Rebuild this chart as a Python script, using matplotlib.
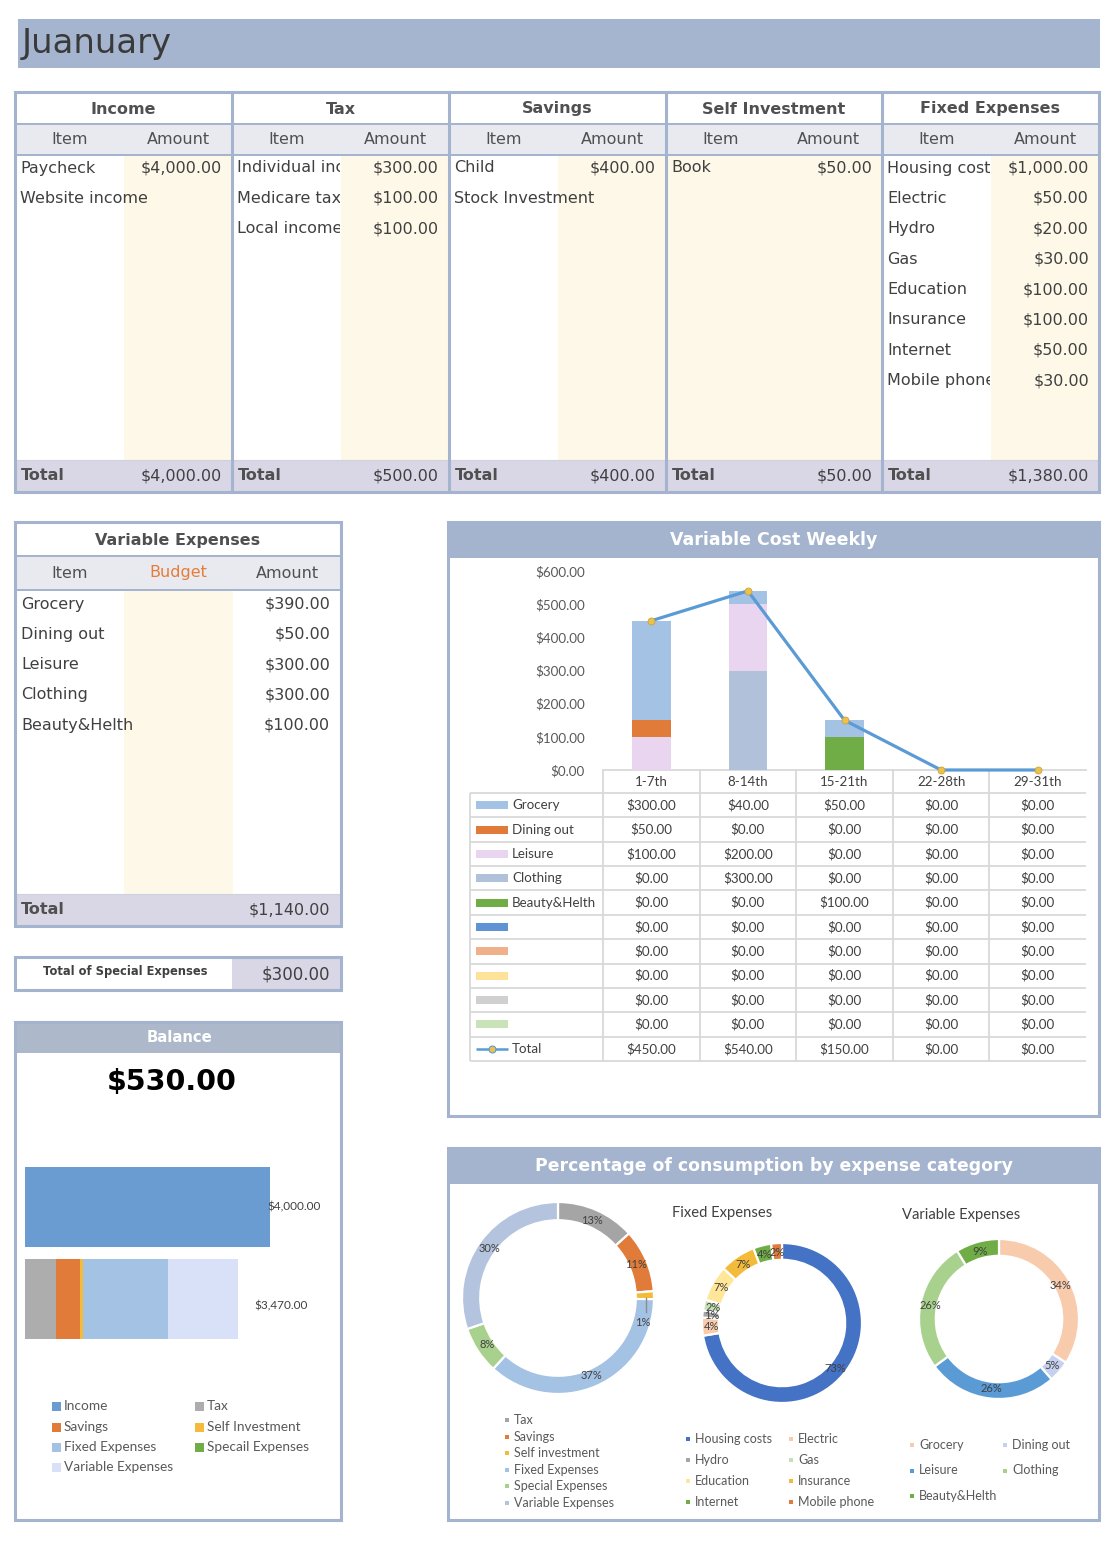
import matplotlib
matplotlib.use("Agg")
import matplotlib.pyplot as plt
import numpy as np
from matplotlib.patches import Rectangle
from matplotlib.transforms import Bbox, blended_transform_factory
from matplotlib.ticker import FuncFormatter

W, H = 1118, 1544

# ---- data read from the sheet ----
month_name = "Juanuary"

income_items = ["Paycheck", "Website income"]
income_amounts = [4000, None]
tax_items = ["Individual income tax", "Medicare tax", "Local income tax"]
tax_amounts = [300, 100, 100]
savings_items = ["Child", "Stock Investment"]
savings_amounts = [400, None]
self_items = ["Book"]
self_amounts = [50]
fixed_items = ["Housing costs", "Electric", "Hydro", "Gas", "Education",
               "Insurance", "Internet", "Mobile phone"]
fixed_amounts = [1000, 50, 20, 30, 100, 100, 50, 30]

var_items = ["Grocery", "Dining out", "Leisure", "Clothing", "Beauty&Helth"]
var_amounts = [390, 50, 300, 300, 100]
special_total = 300

weeks = ["1-7th", "8-14th", "15-21th", "22-28th", "29-31th"]
weekly_names = ["Grocery", "Dining out", "Leisure", "Clothing", "Beauty&Helth", "", "", "", "", ""]
weekly_values = [
    [300, 40, 50, 0, 0],
    [50, 0, 0, 0, 0],
    [100, 200, 0, 0, 0],
    [0, 300, 0, 0, 0],
    [0, 0, 100, 0, 0],
    [0, 0, 0, 0, 0],
    [0, 0, 0, 0, 0],
    [0, 0, 0, 0, 0],
    [0, 0, 0, 0, 0],
    [0, 0, 0, 0, 0],
]
weekly_colors = ["#A4C2E4", "#E07B39", "#EAD5F0", "#B1C1D9", "#70AD47",
                 "#5F93D3", "#F0B08A", "#FFE29A", "#D0D0D0", "#C9E2B8"]

balance_labels = ["Income", "Tax", "Savings", "Self Investment", "Fixed Expenses",
                  "Specail Expenses", "Variable Expenses"]
balance_colors = ["#6A9BD1", "#ADADAD", "#E07B39", "#F4BA3A", "#A4C2E4", "#70AD47", "#D9E1F8"]
balance_special_in_bar = 0

cat_labels = ["Tax", "Savings", "Self investment", "Fixed Expenses", "Special Expenses", "Variable Expenses"]
cat_values = [500, 400, 50, 1380, 300, 1140]
cat_pct = ["13%", "11%", "1%", "37%", "8%", "30%"]
cat_colors = ["#A5A5A5", "#E07B39", "#F4BA3A", "#A4C2E4", "#A9D18E", "#B4C4DE"]

fixed_pct = ["73%", "4%", "1%", "2%", "7%", "7%", "4%", "2%"]
fixed_colors = ["#4472C4", "#F8CBAD", "#A5A5A5", "#C5E0B4", "#FFE699", "#F4BA3A", "#70AD47", "#E07B39"]

var_pct = ["34%", "5%", "26%", "26%", "9%"]
var_colors = ["#F8CBAD", "#C5D1EE", "#5B9BD5", "#A9D18E", "#70AD47"]

# ---- styles ----
TXT = "#404040"
HEAD_TXT = "#505050"
BORDER = "#A4B3CE"
HEAD_FILL = "#E8EAF0"
CREAM = "#FEF8E8"
TOTAL_FILL = "#D9D6E6"
TABLE_FONT = "DejaVu Sans"
CHART_FONT = "Lato"


def money(v):
    return f"${v:,.2f}"


fig = plt.figure(figsize=(W / 100, H / 100), dpi=100)
base = fig.add_axes([0, 0, 1, 1])
base.set_xlim(0, W)
base.set_ylim(H, 0)
base.axis("off")


def px_axes(x, y, w, h):
    ax = fig.add_axes([x / W, 1 - (y + h) / H, w / W, h / H])
    ax.patch.set_visible(False)
    ax.set_zorder(2)
    return ax


def box(x0, y0, x1, y1, fc="none", ec="none", lw=0, z=1):
    base.add_patch(Rectangle((x0, y0), x1 - x0, y1 - y0, facecolor=fc,
                             edgecolor=ec, linewidth=lw, zorder=z))


def line(xs, ys, color=BORDER, lw=2.2, z=5, **kw):
    base.plot(xs, ys, color=color, lw=lw, zorder=z, solid_capstyle="butt", **kw)


def txt(x, y, s, size=11.5, color=TXT, ha="left", weight="normal",
        family=TABLE_FONT, clip=None, z=6, **kw):
    t = base.text(x, y, s, fontsize=size, color=color, ha=ha, va="center",
                  fontweight=weight, family=family, zorder=z, **kw)
    if clip is not None:
        # cell text is cut at the cell edge, like in the sheet
        t.set_clip_on(True)
        t.set_clip_box(Bbox.from_extents(clip[0], H - clip[3], clip[2], H - clip[1]))
    return t


# ---- month banner ----
box(18, 19, 1100, 68, fc="#A5B4CF")
txt(22, 43, month_name, size=24.3, color="#3A3A3A")

# ---- top five tables ----
top_tables = [
    ("Income", income_items, income_amounts, False),
    ("Tax", tax_items, tax_amounts, False),
    ("Savings", savings_items, savings_amounts, False),
    ("Self Investment", self_items, self_amounts, True),
    ("Fixed Expenses", fixed_items, fixed_amounts, False),
]
edges = [15, 232, 449, 666, 882, 1099]
for i, (title, items, amounts, all_cream) in enumerate(top_tables):
    x0, x1 = edges[i], edges[i + 1]
    mid = x0 + 109
    box(x0, 124, x1, 155, fc=HEAD_FILL)
    box(x0 if all_cream else mid, 155, x1, 460, fc=CREAM)
    box(x0, 460, x1, 492, fc=TOTAL_FILL)
    txt((x0 + x1) / 2, 109, title, weight="bold", color=HEAD_TXT, ha="center")
    txt((x0 + mid) / 2, 139, "Item", ha="center", color=HEAD_TXT)
    txt((mid + x1) / 2, 139, "Amount", ha="center", color=HEAD_TXT)
    for r, (it, am) in enumerate(zip(items, amounts)):
        y = 168 + r * 30.4
        right = mid - 1 if am is not None else x1
        txt(x0 + 5, y, it, clip=(x0, y - 16, right, y + 16))
        if am is not None:
            txt(x1 - 10, y, money(am), ha="right")
    txt(x0 + 6, 476, "Total", weight="bold", color=HEAD_TXT)
    txt(x1 - 10, 476, money(sum(a for a in amounts if a is not None)), ha="right")

line([15, 1099], [124, 124], lw=1.4)
line([15, 1099], [155, 155], lw=1.4)
line([15, 1099], [460, 460], color="#CDD2DE", lw=0.8)
for x in edges[1:-1]:
    line([x, x], [92, 492])
box(15, 92, 1099, 492, ec=BORDER, lw=2.2, z=5)

# ---- variable expenses table ----
box(15, 556, 341, 590, fc=HEAD_FILL)
box(124, 590, 233, 894, fc=CREAM)
box(15, 894, 341, 926, fc=TOTAL_FILL)
txt(178, 540, "Variable Expenses", weight="bold", ha="center", color=HEAD_TXT)
txt(70, 573, "Item", ha="center", color=HEAD_TXT)
txt(178, 573, "Budget", ha="center", color="#E57C3A")
txt(287, 573, "Amount", ha="center", color=HEAD_TXT)
for r, (it, am) in enumerate(zip(var_items, var_amounts)):
    y = 604 + r * 30.3
    txt(21, y, it)
    txt(330, y, money(am), ha="right")
txt(21, 910, "Total", weight="bold", color=HEAD_TXT)
txt(330, 910, money(sum(var_amounts)), ha="right")
line([15, 341], [556, 556], lw=1.4)
line([15, 341], [590, 590], lw=1.4)
line([15, 341], [894, 894], color="#CDD2DE", lw=0.8)
box(15, 522, 341, 926, ec=BORDER, lw=2.2, z=5)

# ---- special expenses ----
box(232, 957, 341, 990, fc=TOTAL_FILL)
txt(125, 972, "Total of Special Expenses", size=8.3, weight="bold", ha="center", color=TXT)
txt(330, 975, money(special_total), size=12, ha="right")
box(15, 957, 341, 990, ec=BORDER, lw=2.2, z=5)

# ---- balance panel ----
income_total = sum(a for a in income_amounts if a is not None)
expense_parts = [sum(tax_amounts), sum(a for a in savings_amounts if a is not None),
                 sum(self_amounts), sum(fixed_amounts), balance_special_in_bar, sum(var_amounts)]
expense_total = sum(expense_parts)

box(15, 1022, 341, 1053, fc="#ADB9CA")
txt(180, 1037, "Balance", size=10.7, weight="bold", color="white", ha="center")
txt(172, 1082, money(income_total - expense_total), size=20.5, weight="bold",
    color="black", ha="center")
box(15, 1022, 341, 1520, ec=BORDER, lw=2.2, z=5)

bax = px_axes(25, 1142.6, 245, 220.8)
bax.axis("off")
bax.barh(0, income_total, height=0.86, color=balance_colors[0])
left = 0
for v, c in zip(expense_parts, balance_colors[1:]):
    bax.barh(1, v, left=left, height=0.86, color=c)
    left += v
bax.set_xlim(0, 4000)
bax.set_ylim(1.7, -0.7)
bax.annotate(money(income_total), (income_total, 0), xytext=(-2, 0), textcoords="offset points",
             ha="left", va="center", fontsize=8.5, color=TXT, family=CHART_FONT,
             annotation_clip=False)
bax.annotate(money(expense_total), (expense_total, 1.08), xytext=(12, 0), textcoords="offset points",
             ha="left", va="center", fontsize=8.5, color=TXT, family=CHART_FONT,
             annotation_clip=False)

leg_pos = [(52, 1406), (195, 1406), (52, 1427), (195, 1427), (52, 1447), (195, 1447), (52, 1467)]
for (lx, ly), lab, c in zip(leg_pos, balance_labels, balance_colors):
    box(lx, ly - 4.5, lx + 9, ly + 4.5, fc=c, z=3)
    txt(lx + 12, ly, lab, size=9.8, color="#595959", family=CHART_FONT)

# ---- weekly chart panel ----
box(448, 522, 1099, 558, fc=BORDER)
txt(774, 540, "Variable Cost Weekly", size=12.5, weight="bold", color="white", ha="center")
box(448, 522, 1099, 1116, ec=BORDER, lw=2.2, z=5)

wax = px_axes(603, 571, 483, 199)
xs = np.arange(len(weeks))
bottom = np.zeros(len(weeks))
for vals, col in reversed(list(zip(weekly_values, weekly_colors))):
    wax.bar(xs, vals, width=0.4, bottom=bottom, color=col, zorder=2)
    bottom += np.array(vals)
weekly_total = [sum(v[i] for v in weekly_values) for i in range(len(weeks))]
wax.plot(xs, weekly_total, color="#5B9BD5", lw=2.3, marker="o", ms=5,
         mfc="#EDC14B", mec="#C9A43A", mew=0.6, clip_on=False, zorder=3)
wax.set_xlim(-0.5, len(weeks) - 0.5)
wax.set_ylim(0, 600)
for s in wax.spines.values():
    s.set_visible(False)
wax.set_xticks([])
wax.set_yticks(np.arange(0, 601, 100))
wax.yaxis.set_major_formatter(FuncFormatter(lambda v, p: f"${v:,.2f}"))
wax.tick_params(axis="y", length=0, pad=13, labelsize=9.6, labelcolor="#595959")
for lab in wax.get_yticklabels():
    lab.set_family(CHART_FONT)

trans = blended_transform_factory(wax.transData, base.transData)
GRID = "#D9D9D9"
pitch = (1061 - 793) / 11
base.plot([-0.5, len(weeks) - 0.5], [770, 770], color=GRID, lw=1.3, transform=trans, zorder=3)
for k in range(12):
    y = 793 + k * pitch
    line([470, 1086], [y, y], color=GRID, lw=1.3, z=3)
line([470, 470], [793, 1061], color=GRID, lw=1.3, z=3)
for i in range(len(weeks)):
    base.plot([i - 0.5, i - 0.5], [770, 1061], color=GRID, lw=1.3, transform=trans, zorder=3)
    base.text(i, 782, weeks[i], transform=trans, ha="center", va="center",
              fontsize=9.6, color=TXT, family=CHART_FONT, zorder=6)

rows = list(zip(weekly_names, weekly_values, weekly_colors)) + [("Total", weekly_total, None)]
for r, (name, vals, col) in enumerate(rows):
    y = 793 + (r + 0.5) * pitch
    if col is not None:
        box(476, y - 4, 508, y + 4, fc=col, z=4)
    else:
        line([476, 508], [y, y], color="#5B9BD5", lw=1.8, z=4)
        base.plot(492, y, marker="o", ms=5, mfc="#EDC14B", mec="#5B9BD5", mew=0.8, zorder=5)
    txt(512, y, name, size=9.6, family=CHART_FONT)
    for i, v in enumerate(vals):
        base.text(i, y, money(v), transform=trans, ha="center", va="center",
                  fontsize=9.6, color=TXT, family=CHART_FONT, zorder=6)

# ---- percentage panel ----
box(448, 1148, 1099, 1184, fc=BORDER)
txt(774, 1166, "Percentage of consumption by expense category", size=12.4,
    weight="bold", color="white", ha="center")
box(448, 1148, 1099, 1520, ec=BORDER, lw=2.2, z=5)


def donut(cx, cy, r, values, colors, pcts, ring, shift=None):
    ax = px_axes(cx - r, cy - r, 2 * r, 2 * r)
    wedges, _ = ax.pie(values, colors=colors, startangle=90, counterclock=False,
                       radius=1, wedgeprops=dict(width=ring, edgecolor="white", linewidth=1.6))
    for w in wedges:
        w.set_clip_on(False)
    ax.set_xlim(-1, 1)
    ax.set_ylim(-1, 1)
    for k, (w, p) in enumerate(zip(wedges, pcts)):
        ang = np.deg2rad((w.theta1 + w.theta2) / 2)
        x, y = 0.88 * np.cos(ang), 0.88 * np.sin(ang)
        if shift is not None and shift[k]:
            ax.plot([0.92 * np.cos(ang)] * 2, [0.92 * np.sin(ang) - 0.03, y + shift[k] + 0.11],
                    color="#8C8C8C", lw=1, clip_on=False, zorder=5)
            y += shift[k]
        ax.text(x, y, p, ha="center", va="center", fontsize=8, color=TXT,
                family=CHART_FONT, zorder=6)
    return ax


donut(558, 1298, 96, cat_values, cat_colors, cat_pct, 0.19, shift=[0, 0, -0.28, 0, 0, 0])
donut(782, 1323, 80, fixed_amounts, fixed_colors, fixed_pct, 0.21)
donut(999, 1319, 80, var_amounts, var_colors, var_pct, 0.21)

txt(672, 1213, "Fixed Expenses", size=10.6, family=CHART_FONT)
txt(902, 1215, "Variable Expenses", size=10.6, family=CHART_FONT)


def mini_legend(labels, colors, positions):
    for (lx, ly), lab, c in zip(positions, labels, colors):
        box(lx - 2, ly - 2, lx + 2, ly + 2, fc=c, z=3)
        txt(lx + 7, ly, lab, size=9, color="#595959", family=CHART_FONT)


mini_legend(cat_labels, cat_colors,
            [(507, 1420 + k * 16.6) for k in range(len(cat_labels))])
mini_legend(fixed_items, fixed_colors,
            [(688 + 103 * (k % 2), 1439 + 21 * (k // 2)) for k in range(len(fixed_items))])
mini_legend(var_items, var_colors,
            [(912 + 93 * (k % 2), 1445 + 25.5 * (k // 2)) for k in range(len(var_items))])

fig.savefig("out.png", dpi=100)
